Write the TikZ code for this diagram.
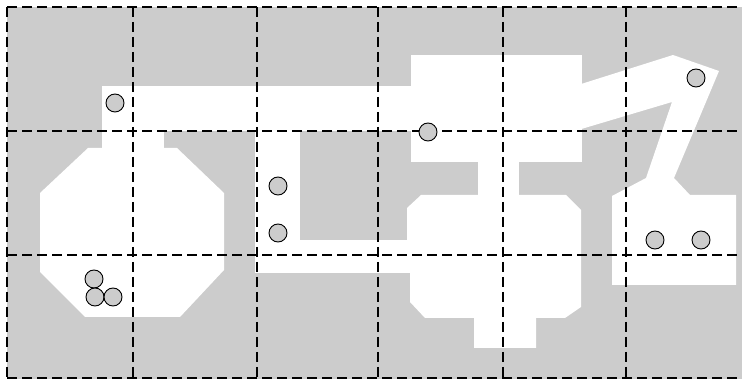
\documentclass[tikz,border=0pt]{standalone}
\begin{document}
\begin{tikzpicture}[x=1pt,y=-1pt,
  freespace/.style={fill=white,draw=none},
  gridline/.style={draw=black,line width=1.8pt,dash pattern=on 10pt off 5pt},
  robot/.style={circle,draw=black,line width=0.9pt,fill=gray!40,minimum size=18pt,inner sep=0pt}]
\useasboundingbox (0,0) rectangle (742,379);
% background obstacle area
\fill[gray!40] (7,7) rectangle (742,379);
% octagonal room
\fill[freespace] (88,148) -- (177,148) -- (224,193) -- (224,270) -- (180,317) -- (85,317) -- (40,272) -- (40,193) -- cycle;
% connector to corridor
\fill[freespace] (102,86) rectangle (164,149);
% top corridor
\fill[freespace] (102,86) rectangle (412,131);
% vertical strip
\fill[freespace] (255,130) rectangle (300,273);
% horizontal band
\fill[freespace] (255,240) rectangle (411,273);
% top block
\fill[freespace] (411,55) rectangle (582,162);
% stem
\fill[freespace] (478,161) rectangle (519,196);
% lower room
\fill[freespace] (421,195) -- (566,195) -- (581,210) -- (581,307) -- (565,318) -- (536,318) -- (536,348) -- (474,348) -- (474,318) -- (425,318) -- (410,302) -- (410,273) -- (407,273) -- (407,208) -- cycle;
% diagonal corridor, arm and right room
\fill[freespace] (578,85) -- (673,55) -- (719,71) -- (674,178) -- (690,195) -- (736,195) -- (736,285) -- (612,285) -- (612,196) -- (646,178) -- (672,102) -- (578,130) -- cycle;
% grid
\foreach \gx in {7,133,257,378,503,626} {\draw[gridline] (\gx,7) -- (\gx,379);}
\foreach \gy in {7,131,255,378} {\draw[gridline] (7,\gy) -- (742,\gy);}
% robots
\node[robot] (r1) at (115,103) {};
\node[robot] (r2) at (94,279) {};
\node[robot] (r3) at (95,297) {};
\node[robot] (r4) at (113,297) {};
\node[robot] (r5) at (278,186) {};
\node[robot] (r6) at (278,233) {};
\node[robot] (r7) at (428,132) {};
\node[robot] (r8) at (696,78) {};
\node[robot] (r9) at (655,240) {};
\node[robot] (r10) at (701,240) {};
\end{tikzpicture}
\end{document}
